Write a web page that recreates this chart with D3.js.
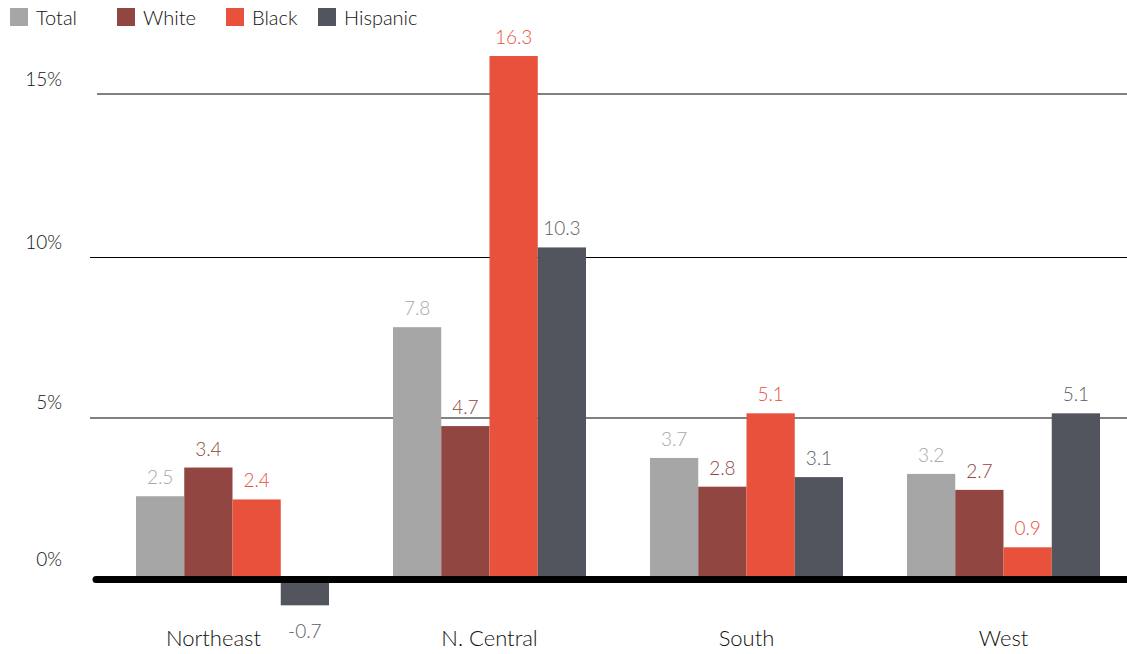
<!DOCTYPE html>
<html><head><meta charset="utf-8">
<script src="https://cdn.jsdelivr.net/npm/d3@7"></script>
<style>
html,body{margin:0;padding:0;background:#fff;}
svg text{font-family:Lato,"DejaVu Sans",sans-serif;font-weight:300;}
</style></head>
<body><svg id="c" width="1127" height="654"></svg>
<script>
const regions = ["Northeast", "N. Central", "South", "West"];
const seriesNames = ["Total", "White", "Black", "Hispanic"];
const totalVals = [2.5, 7.8, 3.7, 3.2];
const whiteVals = [3.4, 4.7, 2.8, 2.7];
const blackVals = [2.4, 16.3, 5.1, 0.9];
const hispanicVals = [-0.7, 10.3, 3.1, 5.1];
const yTicks = [0, 5, 10, 15];
const colors = ["#a6a6a6", "#924642", "#e8513b", "#52555e"];
const labelColors = ["#a8a8a8", "#924642", "#e8513b", "#5a5d65"];

const seriesVals = [totalVals, whiteVals, blackVals, hispanicVals];
const svg = d3.select("#c");

const x0 = d3.scaleBand().domain(regions).range([136, 1100]).paddingInner(0.249).paddingOuter(0);
const x1 = d3.scaleBand().domain(seriesNames).range([0, x0.bandwidth()]).padding(0);
const y = d3.scaleLinear().domain([0, 15]).range([576, 97.5]);
const zeroW = 7;

// gridlines
const gridStyle = {15: {x: 97, c: "#808080", w: 2, dy: -4}, 10: {x: 90, c: "#000", w: 1, dy: 0.5}, 5: {x: 90, c: "#808080", w: 2, dy: 1}};
yTicks.filter(t => t > 0).forEach(t => {
  const yy = Math.round(y(t)) + gridStyle[t].dy;
  svg.append("line").attr("x1", gridStyle[t].x).attr("x2", 1127)
    .attr("y1", yy).attr("y2", yy)
    .attr("stroke", gridStyle[t].c).attr("stroke-width", gridStyle[t].w)
    .attr("shape-rendering", "crispEdges");
});
// y labels
svg.selectAll("text.yl").data(yTicks).join("text")
  .attr("x", 62).attr("y", t => (t === 15 ? y(t) - 4 : y(t)) - 8 + (t === 0 ? -2 : 0))
  .attr("text-anchor", "end").attr("font-size", 19).attr("fill", "#111").attr("font-weight", 400)
  .text(t => t + "%");

// bars
const data = [];
regions.forEach((r, i) => seriesNames.forEach((s, j) => data.push({r, s, j, v: seriesVals[j][i]})));
svg.selectAll("rect.bar").data(data).join("rect")
  .attr("x", d => x0(d.r) + x1(d.s))
  .attr("width", x1.bandwidth())
  .attr("y", d => d.v >= 0 ? y(d.v) : y(0) + zeroW)
  .attr("height", d => Math.abs(y(d.v) - y(0)))
  .attr("fill", d => colors[d.j]);

// zero line
svg.append("line").attr("x1", 96).attr("x2", 1127)
  .attr("y1", y(0) + zeroW / 2).attr("y2", y(0) + zeroW / 2)
  .attr("stroke", "#000").attr("stroke-width", zeroW).attr("stroke-linecap", "round");

// value labels
svg.selectAll("text.vl").data(data).join("text")
  .attr("x", d => x0(d.r) + x1(d.s) + x1.bandwidth() / 2)
  .attr("y", d => d.v >= 0 ? y(d.v) - 12 : y(d.v) + zeroW + 33)
  .attr("text-anchor", "middle").attr("font-size", 19)
  .attr("fill", d => labelColors[d.j])
  .text(d => d.v.toFixed(1));

// category labels
svg.selectAll("text.cl").data(regions).join("text")
  .attr("x", r => x0(r) + x0.bandwidth() / 2 - (r === "Northeast" ? 19 : 0))
  .attr("y", 646).attr("text-anchor", "middle").attr("font-size", 22).attr("fill", "#111").attr("font-weight", 400)
  .text(r => r);

// legend
const legX = [10, 117, 226, 318];
const leg = svg.selectAll("g.leg").data(seriesNames).join("g")
  .attr("transform", (d, i) => `translate(${legX[i]},8)`);
leg.append("rect").attr("width", 18).attr("height", 18).attr("fill", (d, i) => colors[i]);
leg.append("text").attr("x", 26).attr("y", 17).attr("font-size", 20).attr("fill", "#111").attr("font-weight", 400).text(d => d);
</script></body></html>
